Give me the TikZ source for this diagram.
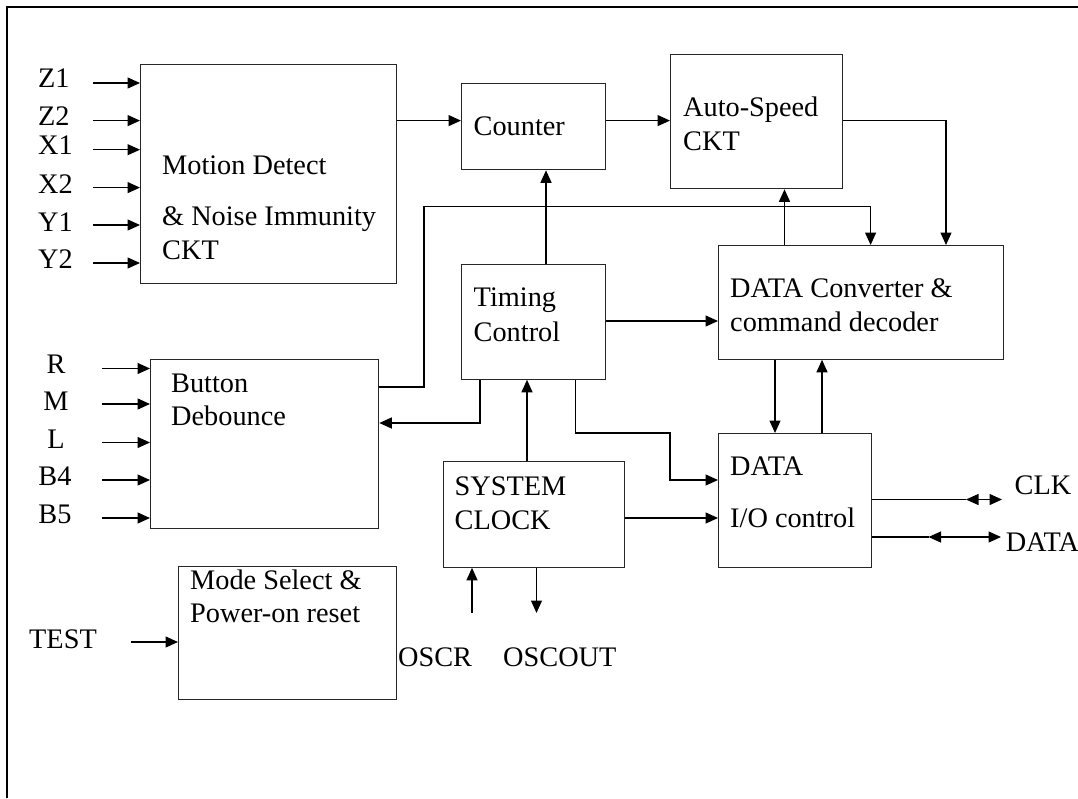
\documentclass[tikz,border=0pt]{standalone}
\usepackage{fontspec}
\setmainfont{Liberation Serif}
\usetikzlibrary{arrows.meta}
\tikzset{
  box/.style={draw=black!85, line width=1.3pt, inner sep=0pt, anchor=north west},
  conn/.style={line width=1.3pt, draw=black},
  arr/.style={conn, -{Triangle[length=12.5pt,width=11pt]}},
  dbl/.style={conn, {Triangle[length=12.5pt,width=11pt]}-{Triangle[length=12.5pt,width=11pt]}},
  txt/.style={anchor=base west, inner sep=0pt, font=\fontsize{28.3}{34}\selectfont},
  ctxt/.style={anchor=base, inner sep=0pt, font=\fontsize{28.3}{34}\selectfont}
}
\begin{document}
\begin{tikzpicture}[x=1pt,y=-1pt]
\clip (0,0) rectangle (1078,798);
\fill[white] (0,0) rectangle (1078,798);
% frame
\draw[line width=2.8pt] (7,798) -- (7,7) -- (1078,7);

% boxes
\node[box, minimum width=256pt, minimum height=219pt] (md) at (140,64) {};
\node[box, minimum width=144pt, minimum height=86pt] (cnt) at (461,83) {};
\node[box, minimum width=172pt, minimum height=134pt] (as) at (670,54) {};
\node[box, minimum width=285pt, minimum height=113.5pt] (dc) at (718,245) {};
\node[box, minimum width=144pt, minimum height=114.5pt] (tc) at (461,264) {};
\node[box, minimum width=228pt, minimum height=169.5pt] (bd) at (150,358.5) {};
\node[box, minimum width=181.5pt, minimum height=105.5pt] (sc) at (442.5,461) {};
\node[box, minimum width=152.6pt, minimum height=133.5pt] (io) at (718,433) {};
\node[box, minimum width=218pt, minimum height=133pt] (ms) at (178,566) {};

% box texts
\node[txt] (tmd1) at (162,174) {Motion Detect};
\node[txt] (tmd2) at (162,225) {\& Noise Immunity};
\node[txt] (tmd3) at (162,259.6) {CKT};
\node[txt] (tcnt) at (473.5,135.7) {Counter};
\node[txt] (tas1) at (683,116) {Auto-Speed};
\node[txt] (tas2) at (683,150.8) {CKT};
\node[txt] (tdc1) at (730,297.5) {DATA Converter \&};
\node[txt] (tdc2) at (730,331.7) {command decoder};
\node[txt] (ttc1) at (473.5,306.5) {Timing};
\node[txt] (ttc2) at (473.5,341.7) {Control};
\node[txt] (tbd1) at (171,392) {Button};
\node[txt] (tbd2) at (171,425) {Debounce};
\node[txt] (tsc1) at (454.5,495.5) {SYSTEM};
\node[txt] (tsc2) at (454.5,529) {CLOCK};
\node[txt] (tio1) at (730,475) {DATA};
\node[txt] (tio2) at (730,527) {I/O control};
\node[txt] (tms1) at (190,589) {Mode Select \&};
\node[txt] (tms2) at (190,622.8) {Power-on reset};

% input labels
\node[txt] (lz1) at (38,87.8) {Z1};
\node[txt] (lz2) at (38,125.6) {Z2};
\node[txt] (lx1) at (38,154.8) {X1};
\node[txt] (lx2) at (38,193) {X2};
\node[txt] (ly1) at (38,231) {Y1};
\node[txt] (ly2) at (38,268.7) {Y2};
\node[ctxt] (lr) at (56,373) {R};
\node[ctxt] (lm) at (56,410) {M};
\node[ctxt] (ll) at (56,448) {L};
\node[ctxt] (lb4) at (55,485.4) {B4};
\node[ctxt] (lb5) at (55,523) {B5};
\node[txt] (ltest) at (29,648) {TEST};
\node[txt] (loscr) at (398,666) {OSCR};
\node[txt] (loscout) at (503,666) {OSCOUT};
\node[txt] (lclk) at (1014.5,494.5) {CLK};
\node[txt] (ldata) at (1005.6,551.4) {DATA};

% input arrows
\coordinate (iz1) at (93,83);
\coordinate (iz2) at (93,120.6);
\coordinate (ix1) at (93,149.7);
\coordinate (ix2) at (93,187.6);
\coordinate (iy1) at (93,225);
\coordinate (iy2) at (93,263);
\foreach \c in {iz1,iz2,ix1,ix2,iy1,iy2}
  \draw[arr] (\c) -- (\c -| md.west);
\coordinate (ir) at (102,368.5);
\coordinate (im) at (102,404);
\coordinate (il) at (102,442.5);
\coordinate (ib4) at (102,480);
\coordinate (ib5) at (102,518);
\foreach \c in {ir,im,il,ib4,ib5}
  \draw[arr] (\c) -- (\c -| bd.west);
\coordinate (itest) at (131,642);
\draw[arr] (itest) -- (itest -| ms.west);

% internal connectors
\coordinate (mc) at (0,120.6);
\draw[arr] (md.east |- mc) -- (cnt.west |- mc);
\draw[arr] (cnt.east |- mc) -- (as.west |- mc);
\coordinate (asx) at (946,0);
\draw[arr] (as.east |- mc) -| (asx |- dc.north);

\coordinate (bdo) at (0,387);
\coordinate (bdx) at (424,206.7);
\coordinate (bdy) at (870.6,206.7);
\draw[arr] (bd.east |- bdo) -| (bdx) -| (bdy |- dc.north);

\coordinate (dcas) at (784.5,0);
\draw[arr] (dcas |- dc.north) -- (dcas |- as.south);

\coordinate (tcc) at (546,0);
\draw[arr] (tcc |- tc.north) -- (tcc |- cnt.south);

\coordinate (tdy) at (0,321);
\draw[arr] (tc.east |- tdy) -- (dc.west |- tdy);

\coordinate (tbx) at (480,423);
\draw[arr] (tbx |- tc.south) |- (bd.east |- tbx);

\coordinate (scx) at (527,0);
\draw[arr] (scx |- sc.north) -- (scx |- tc.south);

\coordinate (ti1) at (575.5,433);
\coordinate (ti2) at (670,480);
\draw[arr] (ti1 |- tc.south) -- (ti1) -| (ti2) -- (io.west |- ti2);

\coordinate (sio) at (0,518);
\draw[arr] (sc.east |- sio) -- (io.west |- sio);

\coordinate (dio) at (775,0);
\draw[arr] (dio |- dc.south) -- (dio |- io.north);
\coordinate (iod) at (822,0);
\draw[arr] (iod |- io.north) -- (iod |- dc.south);

\coordinate (oscr) at (472,613);
\draw[arr] (oscr) -- (oscr |- sc.south);
\coordinate (oscout) at (536.5,613);
\draw[arr] (oscout |- sc.south) -- (oscout);

\coordinate (clka) at (966,499.5);
\coordinate (clkb) at (1002,499.5);
\draw[conn] (io.east |- clka) -- (clka);
\draw[dbl] (clka) -- (clkb);

\coordinate (data) at (928.5,537);
\coordinate (datb) at (1001,537);
\draw[conn] (io.east |- data) -- (data);
\draw[dbl] (data) -- (datb);
\end{tikzpicture}
\end{document}
